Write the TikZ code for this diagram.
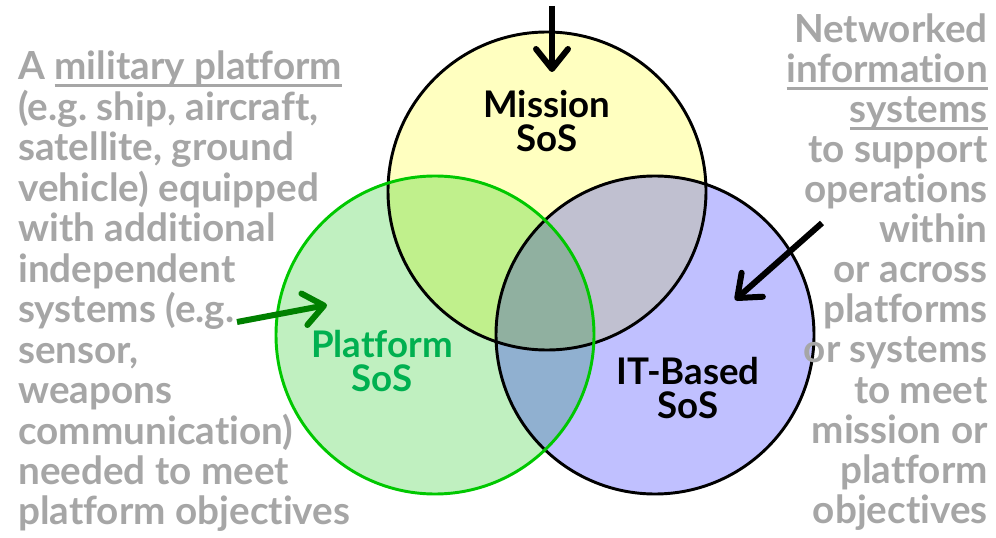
\documentclass[tikz,border=0pt]{standalone}
\usepackage{fontspec}
\setmainfont{Lato}[Ligatures=NoCommon]
\usetikzlibrary{arrows.meta}
\frenchspacing

\definecolor{missionfill}{HTML}{FFFFC0}
\definecolor{platfill}{HTML}{C0F0C0}
\definecolor{itfill}{HTML}{C0C0FF}
\definecolor{mpfill}{HTML}{C0F08C}
\definecolor{mifill}{HTML}{C0C0D0}
\definecolor{pifill}{HTML}{90B0D0}
\definecolor{allfill}{HTML}{90B0A0}
\definecolor{platline}{HTML}{00C800}
\definecolor{plattext}{HTML}{00B050}
\definecolor{notegray}{HTML}{A6A6A6}
\definecolor{arrowgreen}{HTML}{008000}

% underline at a fixed depth, whatever the descenders
\newcommand{\uword}[1]{\setbox0\hbox{#1}\rlap{\rule[-5pt]{\wd0}{1.8pt}}\box0}

\tikzset{
  note/.style={text=notegray, font=\fontsize{29}{30}\selectfont\bfseries, inner sep=0pt},
  setlabel/.style={font=\fontsize{27.5}{25.5}\selectfont\bfseries, align=center, inner sep=0pt},
  setline/.style={line width=2.2pt},
  pointer/.style={line width=4.5pt, -{Straight Barb[length=15pt, width=24pt, round]}},
}

\begin{document}
\begin{tikzpicture}[x=0.75pt, y=-0.75pt]
    \useasboundingbox (0,0) rectangle (996,538);
    %% Centres
    \coordinate (M) at (547,191);
    \coordinate (P) at (435,335);
    \coordinate (I) at (655,335);
    \def\rad{159}
    %% Fills
    \fill[missionfill] (M) circle (\rad);
    \fill[platfill] (P) circle (\rad);
    \fill[itfill] (I) circle (\rad);
    \begin{scope}
        \clip (P) circle (\rad);
        \fill[pifill] (I) circle (\rad);
    \end{scope}
    \begin{scope}
        \clip (M) circle (\rad);
        \fill[mpfill] (P) circle (\rad);
        \fill[mifill] (I) circle (\rad);
        \clip (P) circle (\rad);
        \fill[allfill] (I) circle (\rad);
    \end{scope}
    %% Outlines
    \draw[setline] (M) circle (\rad);
    \draw[setline] (I) circle (\rad);
    \draw[setline, platline] (P) circle (\rad);
    %% Labels
    \node[setlabel] (missionlbl) at (547,121) {Mission\\SoS};
    \node[setlabel, text=plattext] (platlbl) at (382,361) {Platform\\SoS};
    \node[setlabel] (itlbl) at (688,388) {IT-Based\\SoS};
    %% Notes
    \foreach \txt [count=\i] in {A \uword{military platform}, {(e.g. ship, aircraft,}, {satellite, ground},
        vehicle) equipped, with additional, independent, systems (e.g., {sensor,}, weapons,
        communication), needed to meet, platform objectives}
        \node[note, anchor=base west] (platnote-\i) at (18,{80+40.45*(\i-1)}) {\txt};
    \foreach \txt [count=\i] in {Networked, \uword{information}, \uword{systems}, to support,
        operations, within, or across, platforms, or systems, to meet, mission or, platform, objectives}
        \node[note, anchor=base east] (itnote-\i) at (988,{43+40*(\i-1)}) {\txt};
    %% Arrows
    \coordinate (mtail) at (552,6);
    \coordinate (mtip) at (552,72);
    \coordinate (ptail) at (237,322);
    \coordinate (ptip) at (327,305);
    \coordinate (itail) at (822,223);
    \coordinate (itip) at (735,300);
    \draw[pointer] (mtail) -- (mtip);
    \draw[pointer, arrowgreen] (ptail) -- (ptip);
    \draw[pointer] (itail) -- (itip);
\end{tikzpicture}
\end{document}
